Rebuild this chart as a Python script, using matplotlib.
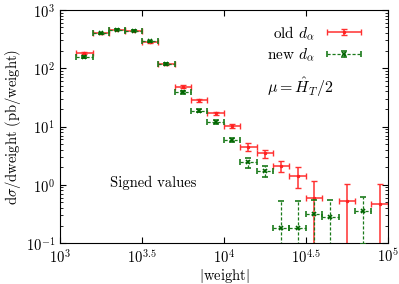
import numpy as np
from matplotlib import pyplot as plt
from matplotlib.legend_handler import HandlerErrorbar

plt.rcParams['font.family'] = 'serif'
plt.rcParams['font.serif'] = ['cmr10']
plt.rcParams['mathtext.fontset'] = 'cm'
plt.rcParams['axes.formatter.use_mathtext'] = True
plt.rcParams['font.size'] = 10.5

# log10 bin centres, values and errors
old_log_x = [3.15, 3.25, 3.35, 3.45, 3.55, 3.65, 3.75, 3.85, 3.95, 4.05,
             4.15, 4.25, 4.35, 4.45, 4.55, 4.75, 4.95]
old_y = [185, 398, 454, 437, 279, 117, 48, 28, 16.8, 10.3,
         4.5, 3.46, 2.12, 1.43, 0.585, 0.533, 0.461]
old_err = [8, 10, 10, 10, 8, 4, 3, 2, 1.2, 0.8,
           0.65, 0.57, 0.43, 0.56, 0.575, 0.5, 0.59]

new_log_x = [3.15, 3.25, 3.35, 3.45, 3.55, 3.65, 3.75, 3.85, 3.95, 4.05,
             4.15, 4.25, 4.35, 4.45, 4.55, 4.65, 4.85]
new_y = [154, 398, 454, 437, 289, 117, 38.6, 18.7, 11.9, 5.87,
         2.43, 1.74, 0.183, 0.183, 0.315, 0.283, 0.354]
new_err = [6, 10, 10, 10, 8, 4, 2, 1.2, 0.8, 0.5,
           0.45, 0.39, 0.343, 0.343, 0.24, 0.264, 0.256]

half_bin = 0.05

xticks = [1e3, 10**3.5, 1e4, 10**4.5, 1e5]
xtick_labels = [r'$10^{3}$', r'$10^{3.5}$', r'$10^{4}$', r'$10^{4.5}$', r'$10^{5}$']
yticks = [1e-1, 1e0, 1e1, 1e2, 1e3]
ytick_labels = [r'$10^{-1}$', r'$10^{0}$', r'$10^{1}$', r'$10^{2}$', r'$10^{3}$']


def centres_and_xerr(log_x):
    lx = np.array(log_x)
    c = 10**lx
    lo = c - 10**(lx - half_bin)
    hi = 10**(lx + half_bin) - c
    return c, [lo, hi]


fig = plt.figure(figsize=(3.99, 2.84), dpi=100)
ax = fig.add_axes([0.150, 0.144, 0.822, 0.821])

x_old, xe_old = centres_and_xerr(old_log_x)
x_new, xe_new = centres_and_xerr(new_log_x)

eb_old = ax.errorbar(x_old, old_y, xerr=xe_old, yerr=old_err, fmt='.', color='#ff2020',
                     ecolor='#ff3030', markersize=3, elinewidth=1.1, capsize=2, capthick=1,
                     label=r'old $d_\alpha$', zorder=2)
eb_new = ax.errorbar(x_new, new_y, xerr=xe_new, yerr=new_err, fmt='x', color='#006400',
                     ecolor='#1a7a1a', markersize=3, markeredgewidth=1.2, elinewidth=0.9,
                     capsize=2, capthick=0.9, label=r'new $d_\alpha$', zorder=3)
for lc in eb_new[2]:
    lc.set_linestyle((0, (2.5, 1.5)))

ax.set_xscale('log')
ax.set_yscale('log')
ax.set_xlim(1e3, 1e5)
ax.set_ylim(1e-1, 1e3)
ax.set_xticks(xticks)
ax.set_xticklabels(xtick_labels)
ax.xaxis.set_minor_locator(plt.NullLocator())
ax.set_yticks(yticks)
ax.set_yticklabels(ytick_labels)
ax.tick_params(which='both', direction='in', top=True, right=True)
ax.tick_params(which='major', length=4)
ax.tick_params(which='minor', length=2)

ax.set_xlabel(r'$|$weight$|$', labelpad=1)
ax.set_ylabel(r'd$\sigma$/dweight (pb/weight)', labelpad=2)

ax.text(10**3.305, 1.07, 'Signed values', ha='left', va='center')
ax.text(10**4.463, 47.6, r'$\mu = \hat{H}_T/2$', ha='center', va='center', fontsize=11.5)

ax.legend(loc='upper right', bbox_to_anchor=(0.96, 0.985), frameon=False,
          markerfirst=False, handlelength=2.6, borderaxespad=0.3, labelspacing=0.3,
          handletextpad=0.6, prop={'size': 11},
          handler_map={type(eb_old): HandlerErrorbar(xerr_size=1.1, yerr_size=0.2)})

fig.savefig('out.png', dpi=100)
